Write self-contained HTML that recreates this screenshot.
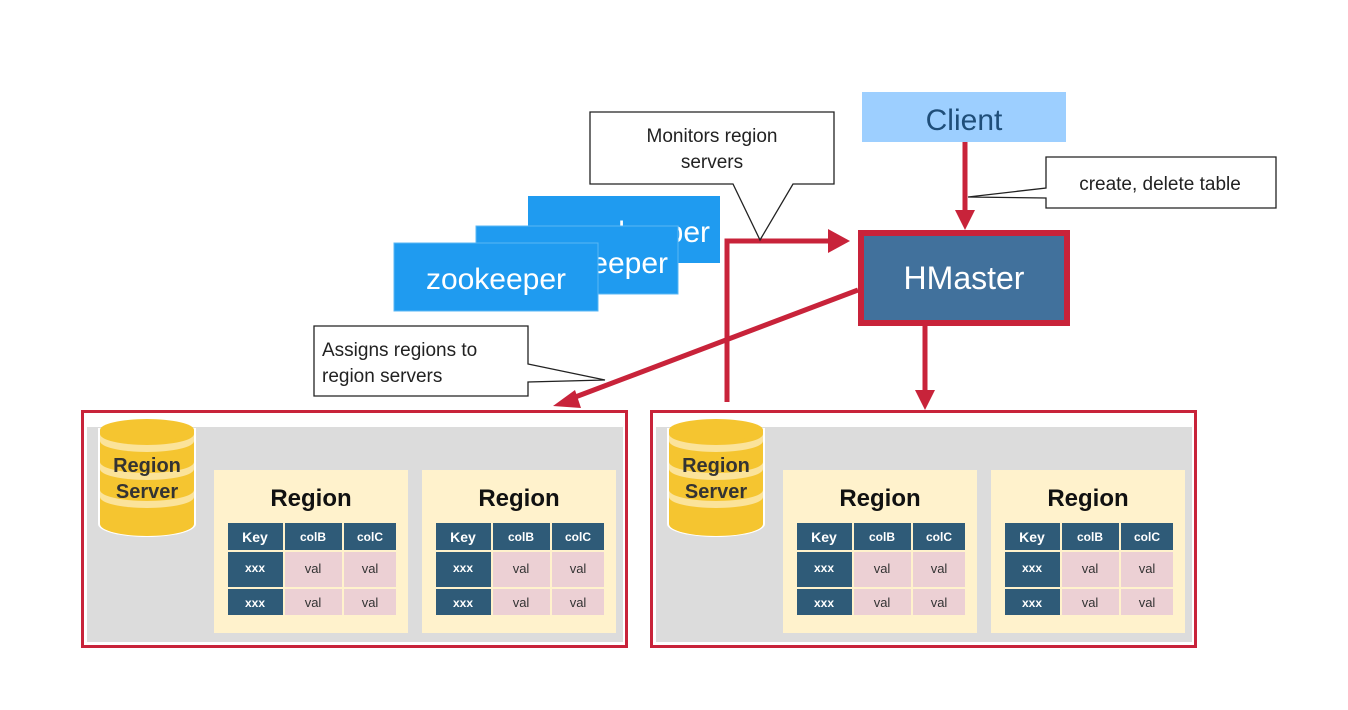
<!DOCTYPE html>
<html><head><meta charset="utf-8"><style>
body{margin:0;background:#fff;}
svg{display:block;font-family:"Liberation Sans",sans-serif;}
</style></head><body>
<svg width="1348" height="710" viewBox="0 0 1348 710" xmlns="http://www.w3.org/2000/svg">
<defs>
<g id="tbl">
  <rect x="0" y="0" width="55" height="27" fill="#2f5b78"/>
  <rect x="57" y="0" width="57" height="27" fill="#2f5b78"/>
  <rect x="116" y="0" width="52" height="27" fill="#2f5b78"/>
  <rect x="0" y="29" width="55" height="35" fill="#2f5b78"/>
  <rect x="57" y="29" width="57" height="35" fill="#ecd0d4"/>
  <rect x="116" y="29" width="52" height="35" fill="#ecd0d4"/>
  <rect x="0" y="66" width="55" height="26" fill="#2f5b78"/>
  <rect x="57" y="66" width="57" height="26" fill="#ecd0d4"/>
  <rect x="116" y="66" width="52" height="26" fill="#ecd0d4"/>
  <g font-size="14" font-weight="bold" fill="#fff" text-anchor="middle">
    <text x="27" y="19">Key</text><text x="85" y="18" font-size="12">colB</text><text x="142" y="18" font-size="12">colC</text>
    <text x="27" y="49" font-size="12">xxx</text><text x="27" y="84" font-size="12">xxx</text>
  </g>
  <g font-size="13" fill="#333" text-anchor="middle">
    <text x="85" y="50">val</text><text x="142" y="50">val</text>
    <text x="85" y="84">val</text><text x="142" y="84">val</text>
  </g>
</g>
<g id="region">
  <rect x="0" y="0" width="194" height="163" fill="#fff2cc"/>
  <text x="97" y="36" font-size="24" font-weight="bold" text-anchor="middle" fill="#111">Region</text>
  <use href="#tbl" x="14" y="53"/>
</g>
<g id="rs">
  <rect x="1.5" y="1.5" width="544" height="235" fill="#fff" stroke="#c8233a" stroke-width="3"/>
  <rect x="6" y="17" width="536" height="215" fill="#dcdcdc"/>
  <g>
    <path d="M17 18 v96 a49 13 0 0 0 98 0 v-96 z" fill="#fff"/>
    <path d="M19 20 v94 a47 12 0 0 0 94 0 v-94 z" fill="#f5c530"/>
    <ellipse cx="66" cy="20" rx="47" ry="11" fill="#f5c530"/>
    <path d="M19 24 a47 11 0 0 0 94 0 v7 a47 11 0 0 1 -94 0z" fill="#fbe39a"/>
    <path d="M19 52 a47 11 0 0 0 94 0 v7 a47 11 0 0 1 -94 0z" fill="#fbe39a"/>
    <path d="M19 80 a47 11 0 0 0 94 0 v7 a47 11 0 0 1 -94 0z" fill="#fbe39a"/>
    <text x="66" y="62" font-size="20" font-weight="bold" text-anchor="middle" fill="#333">Region</text>
    <text x="66" y="88" font-size="20" font-weight="bold" text-anchor="middle" fill="#333">Server</text>
  </g>
  <use href="#region" x="133" y="60"/>
  <use href="#region" x="341" y="60"/>
</g>
</defs>

<use href="#rs" x="81" y="410"/>
<use href="#rs" x="650" y="410"/>

<!-- zookeepers -->
<rect x="528" y="196" width="192" height="67" fill="#1f9bf0"/>
<text x="710" y="242" font-size="30" fill="#fff" text-anchor="end">keeper</text>
<rect x="476" y="226" width="202" height="68" fill="#1f9bf0" stroke="#5ab7f5" stroke-width="1"/>
<text x="668" y="273" font-size="30" fill="#fff" text-anchor="end">keeper</text>
<rect x="394" y="243" width="204" height="68" fill="#1f9bf0" stroke="#5ab7f5" stroke-width="1"/>
<text x="496" y="289" font-size="30" fill="#fff" text-anchor="middle">zookeeper</text>

<!-- Client -->
<rect x="862" y="92" width="204" height="50" fill="#9dcfff"/>
<text x="964" y="130" font-size="30" fill="#1f4e79" text-anchor="middle">Client</text>

<!-- HMaster -->
<rect x="861" y="233" width="206" height="90" fill="#41719c" stroke="#c8233a" stroke-width="6"/>
<text x="964" y="289" font-size="32" fill="#fff" text-anchor="middle">HMaster</text>

<!-- connectors -->
<g stroke="#c8233a" stroke-width="5" fill="none">
  <path d="M727 402 V241 H832"/>
  <path d="M965 142 V214"/>
  <path d="M925 326 V393"/>
  <path d="M858 290 L570 399"/>
</g>
<g fill="#c8233a">
  <polygon points="828,229 850,241 828,253"/>
  <polygon points="955,210 975,210 965,230"/>
  <polygon points="915,390 935,390 925,410"/>
  <polygon points="553,406 575,390 581,408"/>
</g>

<!-- callouts -->
<g fill="#fff" stroke="#222" stroke-width="1.3">
  <path d="M590 112 H834 V184 H793 L760 240 L733 184 H590 Z"/>
  <path d="M1046 157 H1276 V208 H1046 V198 L968 197 L1046 188 Z"/>
  <path d="M314 326 H528 V364 L605 380 L528 382 V396 H314 Z"/>
</g>
<g font-size="19" fill="#222">
  <text x="712" y="142" text-anchor="middle">Monitors region</text>
  <text x="712" y="168" text-anchor="middle">servers</text>
  <text x="1160" y="190" text-anchor="middle">create, delete table</text>
  <text x="322" y="356">Assigns regions to</text>
  <text x="322" y="382">region servers</text>
</g>
</svg>
</body></html>
